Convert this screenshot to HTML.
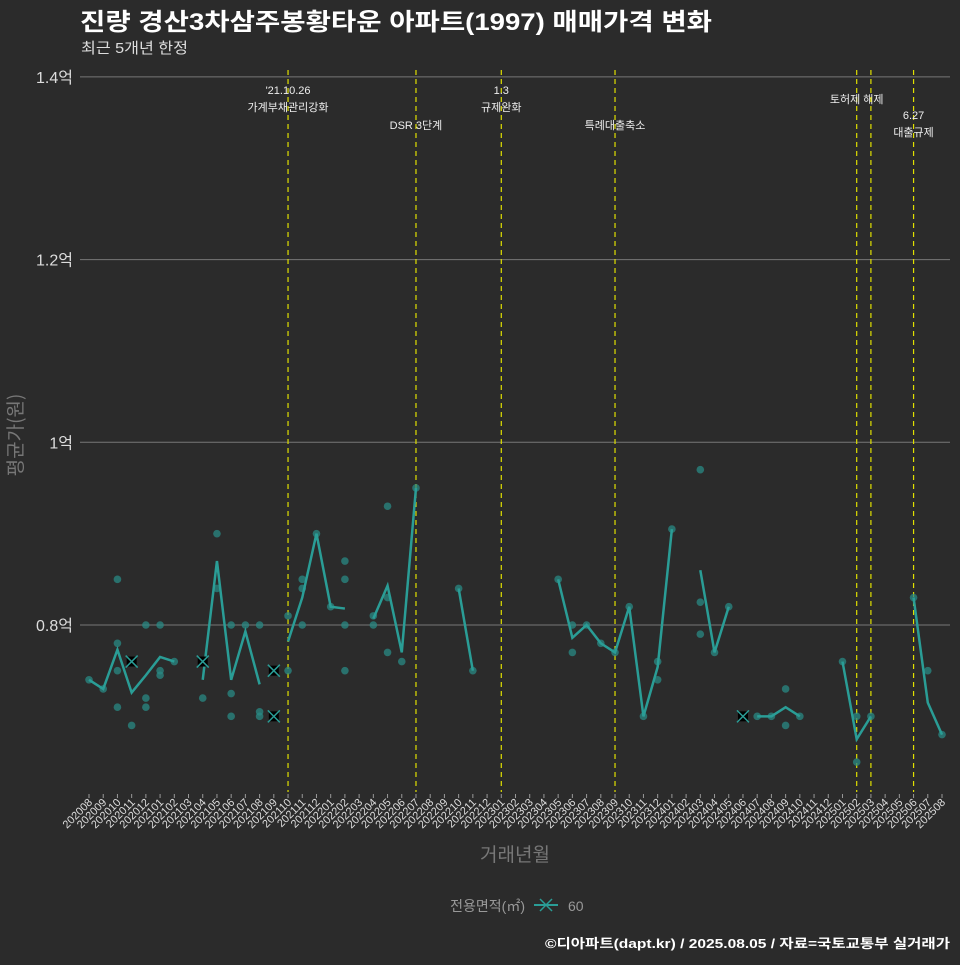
<!DOCTYPE html>
<html><head><meta charset="utf-8"><style>
html,body{margin:0;padding:0;background:#2b2b2b;}
body{width:960px;height:960px;overflow:hidden;font-family:"Liberation Sans","Noto Sans CJK KR",sans-serif;}
svg text{font-family:"Liberation Sans","Noto Sans CJK KR",sans-serif;}
</style></head><body>
<svg id="chart" width="960" height="960" xmlns="http://www.w3.org/2000/svg">
<rect width="960" height="960" fill="#2b2b2b"/>
<text x="80" y="30" fill="#ffffff" font-size="24" font-weight="bold" textLength="632" lengthAdjust="spacingAndGlyphs">진량 경산3차삼주봉황타운 아파트(1997) 매매가격 변화</text>
<text x="81" y="53" fill="#dddddd" font-size="15" textLength="107" lengthAdjust="spacingAndGlyphs">최근 5개년 한정</text>
<g id="grid"></g><g id="events"></g><g id="marks"></g><g id="xaxis"></g>
<text transform="translate(22,435) rotate(-90)" text-anchor="middle" fill="#777" font-size="19" style="font-family:'Noto Sans CJK KR',sans-serif">평균가(원)</text>
<text x="515" y="861" text-anchor="middle" fill="#777" font-size="19">거래년월</text>
<g>
<text x="525" y="911" text-anchor="end" fill="#999" font-size="14">전용면적(㎡)</text>
<line x1="534" y1="905" x2="558" y2="905" stroke="#2a9d96" stroke-width="2"/>
<path d="M540 899 L552 911 M552 899 L540 911" stroke="#2a9d96" stroke-width="1.5"/>
<text x="568" y="911" fill="#999" font-size="14">60</text>
</g>
<text x="950" y="948" text-anchor="end" fill="#ffffff" font-size="13" font-weight="bold" textLength="405" lengthAdjust="spacingAndGlyphs">©디아파트(dapt.kr) / 2025.08.05 / 자료=국토교통부 실거래가</text>
</svg>
<script>
const months=[];for(let y=2020,m=8;!(y===2025&&m===9);){months.push(''+y+(m<10?'0':'')+m);m++;if(m>12){m=1;y++;}}
const lineVals=[0.74,0.73,0.773,0.726,0.745,0.765,0.76,null,0.74,0.87,0.74,0.793,0.735,null,0.782,0.83,0.9,0.82,0.818,null,0.807,0.843,0.77,0.95,null,null,0.84,0.75,null,null,null,null,null,0.85,0.786,0.80,0.78,0.77,0.82,0.70,0.754,0.905,null,0.86,0.77,0.82,null,0.70,0.70,0.71,0.70,null,null,0.76,0.675,0.70,null,null,0.83,0.715,0.68];
const dotIdx=[0,1,2,2,2,2,3,4,4,4,5,5,5,6,8,9,9,10,10,10,11,12,12,12,14,14,15,15,15,16,17,18,18,18,18,20,20,21,21,21,22,23,26,27,33,34,34,35,36,37,38,39,40,40,41,43,43,43,44,45,47,48,49,49,50,53,54,54,55,58,59,60];
const dotVals=[0.74,0.73,0.85,0.78,0.75,0.71,0.69,0.8,0.72,0.71,0.8,0.75,0.745,0.76,0.72,0.9,0.84,0.8,0.725,0.70,0.8,0.8,0.705,0.70,0.81,0.75,0.85,0.84,0.8,0.9,0.82,0.87,0.85,0.8,0.75,0.81,0.8,0.93,0.83,0.77,0.76,0.95,0.84,0.75,0.85,0.8,0.77,0.80,0.78,0.77,0.82,0.70,0.76,0.74,0.905,0.97,0.825,0.79,0.77,0.82,0.70,0.70,0.73,0.69,0.70,0.76,0.70,0.65,0.70,0.83,0.75,0.68];
const xMarkIdx=[3,8,13,13,46];
const xMarkVals=[0.76,0.76,0.75,0.70,0.70];
const yTicks=[0.8,1.0,1.2,1.4];
const yTickLabels=['0.8억','1억','1.2억','1.4억'];
const eventIdx=[14,23,29,37,54,55,58];
const eventLines=[["'21.10.26","가계부채관리강화"],["DSR 3단계"],["1.3","규제완화"],["특례대출축소"],["토허제 해제"],[],["6.27","대출규제"]];
const eventY=[[94,111],[129],[94,111],[129],[103],[],[119,136]];
const X=i=>89+i*(942-89)/60;
const Y=v=>625-(v-0.8)*913.5;
const NS='http://www.w3.org/2000/svg';
function mk(t,a,p){const e=document.createElementNS(NS,t);for(const k in a)e.setAttribute(k,a[k]);p.appendChild(e);return e;}
const grid=document.getElementById('grid'),ev=document.getElementById('events'),marks=document.getElementById('marks'),xa=document.getElementById('xaxis');
yTicks.forEach((v,k)=>{
 const l=mk('line',{x1:80,x2:950,y1:Y(v),y2:Y(v),stroke:'#777','stroke-width':1},grid);
 
 
 const t=mk('text',{x:73,y:Y(v)+6,'text-anchor':'end',fill:'#ddd','font-size':16},grid);
 
 
 t.textContent=yTickLabels[k];
});
eventIdx.forEach((i,k)=>{
 const l=mk('line',{x1:X(i),x2:X(i),y1:70,y2:792,stroke:'#e0e000','stroke-width':1.2,'stroke-dasharray':'5,4'},ev);
 
 
 eventLines[k].forEach((s,j)=>{
  const t=mk('text',{x:X(i),y:eventY[k][j],'text-anchor':'middle',fill:'#eee','font-size':11},ev);
  
  
  t.textContent=s;
 });
});
dotIdx.forEach((i,k)=>{
 const c=mk('circle',{cx:X(i),cy:Y(dotVals[k]),r:3.8,fill:'#2a8a84','fill-opacity':0.75},marks);
 
 
});
let seg=[];
function flush(){if(seg.length>1){const p=mk('polyline',{points:seg.join(' '),fill:'none',stroke:'#2a9d96','stroke-width':2.5},marks);
 
 }seg=[];}
lineVals.forEach((v,i)=>{if(v==null)flush();else seg.push(X(i)+','+Y(v));});flush();
xMarkIdx.forEach((i,k)=>{const x=X(i),y=Y(xMarkVals[k]);
 const c=mk('rect',{x:x-5,y:y-5,width:10,height:10,fill:'#000'},marks);
 
 
 const p=mk('path',{d:`M${x-6} ${y-6}L${x+6} ${y+6}M${x+6} ${y-6}L${x-6} ${y+6}`,stroke:'#2a9d96','stroke-width':1.5},marks);
 
 
});
months.forEach((m,i)=>{
 const l=mk('line',{x1:X(i),x2:X(i),y1:794,y2:798,stroke:'#999'},xa);
 
 
 const t=mk('text',{transform:`translate(${X(i)+4},803) rotate(-45)`,'text-anchor':'end',fill:'#ddd','font-size':11},xa);
 
 
 t.textContent=m;
});
</script>
</body></html>
